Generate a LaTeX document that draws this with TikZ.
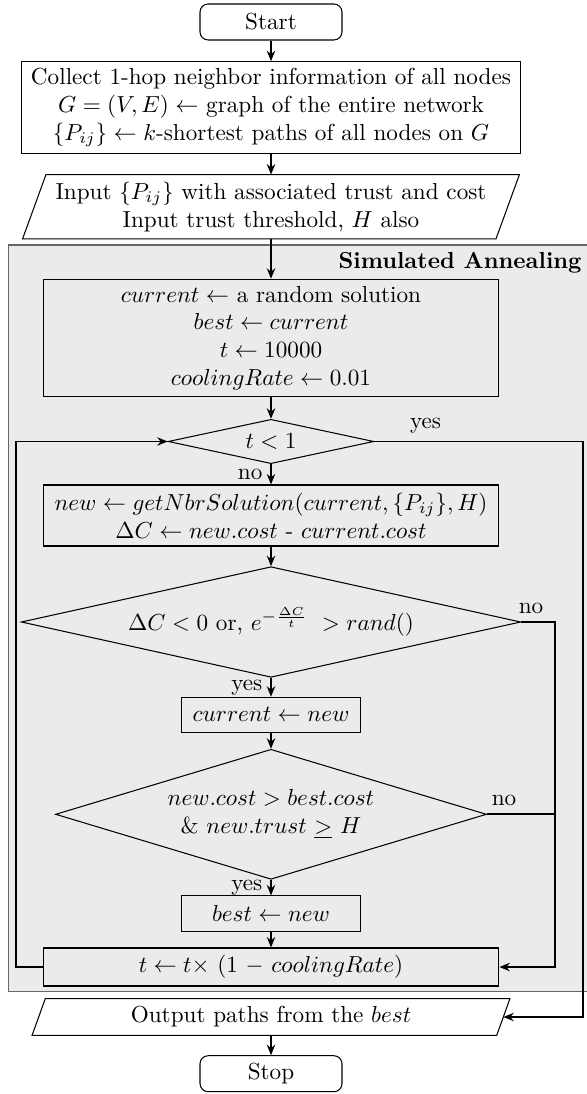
\documentclass[tikz,border=0pt]{standalone}
\usetikzlibrary{shapes.geometric,arrows.meta,calc}
\def\pxu{0.4314pt}
\begin{document}
\begin{tikzpicture}[x=\pxu, y=-\pxu,
  box/.style={draw=black, line width=0.45pt, align=center, inner sep=2pt},
  term/.style={box, rounded corners=3.5pt},
  dec/.style={draw=black, line width=0.45pt, diamond, align=center, inner sep=0pt},
  conn/.style={line width=0.8pt, -{Stealth[length=4.5pt,width=3.6pt]}},
  plain/.style={line width=0.8pt}]
\useasboundingbox (0,0) rectangle (587,1094);
% Simulated annealing region
\fill[black!8] (8.3,245) rectangle (600,991.7);
\draw[black!60, line width=0.6pt] (600,245) -- (8.3,245) -- (8.3,991.7) -- (600,991.7);
\node[anchor=east, font=\bfseries, inner sep=0pt] (sa) at (582,263) {Simulated Annealing};

\node[term, minimum width=142*\pxu, minimum height=36*\pxu] (start) at (271,22) {Start};
\node[box, fill=white, minimum width=499*\pxu, minimum height=91.6*\pxu] (collect) at (271,107.5)
  {Collect 1-hop neighbor information of all nodes\\
   $G = (V, E) \leftarrow$ graph of the entire network\\
   $\{P_{ij}\} \leftarrow k$-shortest paths of all nodes on $G$};
\node[align=center, inner sep=0pt, minimum width=472.5*\pxu, minimum height=63.3*\pxu] (inp) at (271,206.7)
  {Input $\{P_{ij}\}$ with associated trust and cost\\
   Input trust threshold, $H$ also};
\draw[line width=0.45pt] ($(inp.south west)+(-11.7,0)$) -- ($(inp.south east)+(-11.7,0)$)
  -- ($(inp.north east)+(11.7,0)$) -- ($(inp.north west)+(11.7,0)$) -- cycle;

\node[box, minimum width=455.7*\pxu, minimum height=117.4*\pxu] (init) at (271,338)
  {$current \leftarrow$ a random solution\\
   $best \leftarrow current$\\
   $t \leftarrow 10000$\\
   $coolingRate \leftarrow 0.01$};
\node[dec, aspect=4.64, minimum width=205.6*\pxu, minimum height=44.3*\pxu] (d1) at (271,441.5) {$t < 1$};
\node[box, minimum width=455.7*\pxu, minimum height=61*\pxu] (nbr) at (271,515.5)
  {$new \leftarrow getNbrSolution(current, \{P_{ij}\}, H)$\\
   $\Delta C \leftarrow new.cost$ - $current.cost$};
\node[dec, aspect=4.52, minimum width=499.5*\pxu, minimum height=110.6*\pxu] (d2) at (271,622)
  {$\Delta C < 0$ or, $e^{-\frac{\Delta C}{t}}\ > rand()$};
\node[box, minimum width=179*\pxu, minimum height=35*\pxu] (cur) at (271,714.8) {$current \leftarrow new$};
\node[dec, aspect=3.32, minimum width=431*\pxu, minimum height=130*\pxu] (d3) at (271,814.3)
  {$new.cost > best.cost$\\ $\&\ new.trust\ \underline{>}\ H$};
\node[box, minimum width=179*\pxu, minimum height=35.7*\pxu] (best) at (271,913.8) {$best \leftarrow new$};
\node[box, minimum width=455.7*\pxu, minimum height=38*\pxu] (tb) at (271,967)
  {$t \leftarrow t\times$ $(1$ $-$ $coolingRate)$};

\node[align=center, inner sep=0pt, minimum width=463.7*\pxu, minimum height=36*\pxu] (out) at (271,1017)
  {Output paths from the $best$};
\draw[line width=0.45pt] ($(out.south west)+(-6.65,0)$) -- ($(out.south east)+(-6.65,0)$)
  -- ($(out.north east)+(6.65,0)$) -- ($(out.north west)+(6.65,0)$) -- cycle;
\node[term, minimum width=142*\pxu, minimum height=36*\pxu] (stop) at (271,1073.7) {Stop};

% connectors
\draw[conn] (start) -- (collect);
\draw[conn] (collect) -- (inp);
\draw[conn] (inp) -- (init);
\draw[conn] (init) -- (d1);
\draw[conn] (d1) -- node[left]{no} (nbr);
\draw[conn] (nbr) -- (d2);
\draw[conn] (d2) -- node[left]{yes} (cur);
\draw[conn] (cur) -- (d3);
\draw[conn] (d3) -- node[left]{yes} (best);
\draw[conn] (best) -- (tb);
\draw[conn] (out) -- (stop);

\coordinate (lx) at (15.7,441.5);
\coordinate (rx) at (555,622);
\coordinate (yx) at (583.3,441.5);
\draw[conn] (tb.west) -- (tb.west -| lx) |- (d1.west);
\draw[conn] (d2.east) -- node[above,pos=0.29]{no} (d2.east -| rx) |- (tb.east);
\draw[plain] (d3.east) -- node[above,pos=0.25]{no} (d3.east -| rx);
\draw[conn] (d1.east) -- node[above,pos=0.245]{yes} (d1.east -| yx) |- (out.east);
\end{tikzpicture}
\end{document}
